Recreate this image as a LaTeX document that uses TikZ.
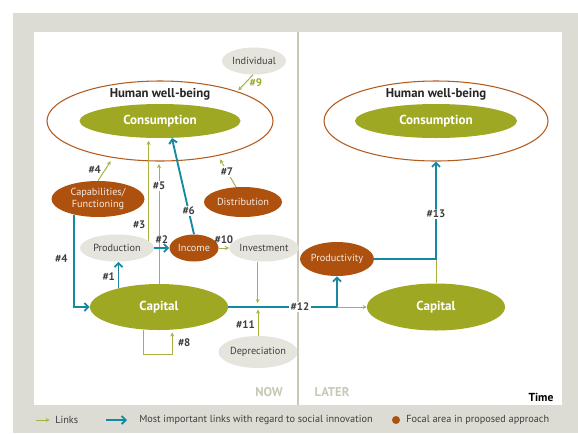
\documentclass[tikz,border=0pt]{standalone}
\usepackage{fontspec}
\setmainfont{PT Sans}
\usetikzlibrary{shapes.geometric,arrows.meta}

\definecolor{cOlive}{RGB}{158,168,34}
\definecolor{cLink}{RGB}{168,178,62}
\definecolor{cRust}{RGB}{174,80,14}
\definecolor{cRim}{RGB}{180,92,30}
\definecolor{cTeal}{RGB}{22,136,160}
\definecolor{cPale}{RGB}{229,229,222}
\definecolor{cBack}{RGB}{220,220,213}
\definecolor{cInk}{RGB}{62,62,62}
\definecolor{cFaint}{RGB}{200,200,182}

\begin{document}
\begin{tikzpicture}[x=0.75pt,y=-0.75pt,
  every node/.style={font=\fontsize{7.7}{9}\selectfont},
  dims/.style 2 args={minimum width=#1*0.75pt, minimum height=#2*0.75pt},
  rim/.style={ellipse, inner sep=0pt, draw=cRim, line width=0.8pt},
  blob/.style={ellipse, inner sep=0pt, fill=cOlive, text=white, font=\fontsize{9.8}{11}\selectfont\bfseries},
  focal/.style={ellipse, inner sep=0pt, fill=cRust, text=white!88!cRust, align=center},
  plain/.style={ellipse, inner sep=0pt, fill=cPale, text=cInk},
  title/.style={text=black!85, font=\fontsize{9.6}{11}\selectfont\bfseries},
  hash/.style={text=cInk, font=\fontsize{8.2}{9}\selectfont\bfseries, inner sep=1pt},
  link/.style={draw=cLink, line width=0.75pt, -{Stealth[length=3pt,width=3pt]}},
  mainlink/.style={draw=cTeal, line width=1.4pt, -{Straight Barb[length=3pt,width=6pt]}}
]
\useasboundingbox (0,0) rectangle (578,433);
\fill[white] (0,0) rectangle (578,433);
\fill[cBack] (13,13) rectangle (578,433);
\fill[white] (34,32) rectangle (562,405);
\draw[cFaint, line width=0.8pt] (298,32) -- (298,405);

% now
\node [rim, dims={226}{80}] (well_l) at (160,121) {};
\node [blob, dims={161}{34}] (cons_l) at (160,121) {Consumption};
\node [title] (hwb_l) at (160,94) {Human well-being};
\node [plain, dims={64}{27}] (indiv) at (254,61) {Individual};
\node [focal, dims={93}{36}] (capab) at (98,199) {Capabilities/\\Functioning};
\node [focal, dims={78}{30}] (distr) at (243,202) {Distribution};
\node [plain, dims={74}{27}] (prod) at (117,248) {Production};
\node [focal, dims={49}{27}] (inc) at (194,248) {Income};
\node [plain, dims={62}{27}] (inv) at (264,248) {Investment};
\node [blob, dims={138}{46}] (cap_l) at (159,307) {Capital};
\node [plain, dims={71}{32}] (depr) at (258,352) {Depreciation};

% later
\node [rim, dims={224}{80}] (well_r) at (436,121) {};
\node [blob, dims={162}{34}] (cons_r) at (436,121) {Consumption};
\node [title] (hwb_r) at (436,94) {Human well-being};
\node [focal, dims={70}{34}] (prodv) at (337,259) {Productivity};
\node [blob, dims={138}{47}] (cap_r) at (436,307) {Capital};

\draw [link, shorten >=1pt] (indiv.266) -- node [hash, text=cOlive, right=2pt] {\#9} (well_l.21);
\draw [link, shorten >=3pt] (capab.north) -- node [hash, left=2pt] {\#4} (well_l.218);
\draw [link, shorten >=3pt] (distr.115) -- node [hash, fill=white] {\#7} (well_l.329);
\draw [link, shorten >=2pt] (prod.13) -- node [hash, left=1pt, pos=0.16] {\#3} (prod.13 |- cons_l.south);
\draw [link, shorten >=2pt] (cap_l.north) -- node [hash, fill=white, pos=0.8] {\#5} (cap_l.north |- well_l.south);
\draw [mainlink] (inc.north) -- node [hash, fill=white, pos=0.24] {\#6} (cons_l.305);
\draw [mainlink] (prod.east) -- node [hash, above=2pt] {\#2} (inc.west);
\draw [link] (inc.east) -- node [hash, above=2pt] {\#10} (inv.west);
\draw [mainlink] (cap_l.155) -- node [hash, left=1pt, pos=0.42] {\#1} (cap_l.155 |- prod.south);
\draw [mainlink] (capab.213) |- node [hash, left=3pt, pos=0.24] {\#4} (cap_l.west);
\draw [link, shorten >=2pt] (cap_l.235) -- ++(0,25) -| node [hash, right=3pt, pos=0.75] {\#8} (cap_l.300);
\draw [link, shorten >=3pt] (inv.245) -- (inv.245 |- cap_l.east);
\draw [link, shorten >=2pt] (depr.north) -- node [hash, left=1pt, pos=0.4] {\#11} (depr.north |- cap_l.east);
\draw [mainlink] (cap_l.east) -| node [hash, fill=white, pos=0.33] {\#12} (prodv.south);
\draw [link] (prodv.south |- cap_r.west) -- (cap_r.west);
\draw [cLink, line width=0.75pt] (cap_r.north) -- (cap_r.north |- prodv.east);
\draw [mainlink] (prodv.east) -| node [hash, fill=white, pos=0.73] {\#13} (well_r.south);

% axis words
\node [text=cFaint, font=\fontsize{9.5}{11}\selectfont\bfseries] (now) at (269,392) {NOW};
\node [text=cFaint, font=\fontsize{9.5}{11}\selectfont\bfseries] (later) at (332,392) {LATER};
\node [text=black, font=\fontsize{8.7}{10}\selectfont\bfseries] (time) at (541,397) {Time};

% legend
\node [right, inner sep=0pt, text=cInk] (lg_links) at (55,420) {Links};
\node [right, inner sep=0pt, text=cInk] (lg_main) at (139,420) {Most important links with regard to social innovation};
\node [circle, fill=cRust, minimum size=6pt, inner sep=0pt] (lg_dot) at (396,420) {};
\node [right, inner sep=0pt, text=cInk] (lg_focal) at (406,420) {Focal area in proposed approach};
\coordinate (lg_a) at (36,420);
\coordinate (lg_b) at (106,420);
\draw [link, shorten >=4pt] (lg_a) -- (lg_links.west);
\draw [mainlink, shorten >=9pt] (lg_b) -- (lg_main.west);
\end{tikzpicture}
\end{document}
